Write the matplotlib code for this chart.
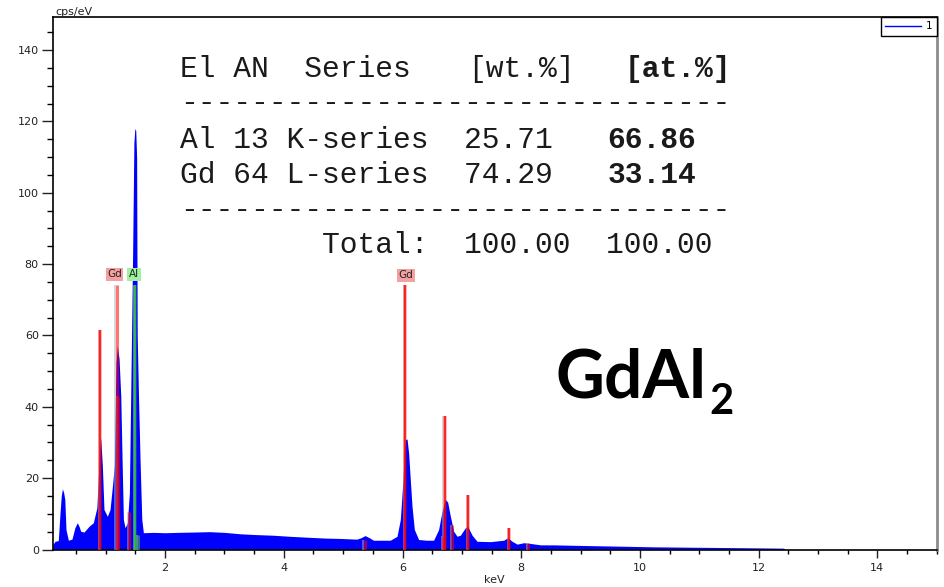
import matplotlib
matplotlib.use("Agg")
import matplotlib.pyplot as plt
from matplotlib.ticker import MultipleLocator
from matplotlib.lines import Line2D

# ---- spectrum data ----
energy_kev = [0.11, 0.145, 0.20, 0.23, 0.25, 0.27, 0.29, 0.31, 0.33, 0.37, 0.43, 0.48, 0.52, 0.55,
              0.578, 0.634, 0.718, 0.79, 0.85, 0.875, 0.90, 0.915, 0.943, 0.97, 1.027, 1.072, 1.118,
              1.145, 1.157, 1.173, 1.195, 1.224, 1.253, 1.275, 1.297, 1.325, 1.364, 1.398, 1.421,
              1.452, 1.474, 1.49, 1.505, 1.52, 1.53, 1.55, 1.578, 1.607, 1.634, 1.8, 2.0, 2.2, 2.5,
              2.75, 3.0, 3.27, 3.5, 3.82, 4.1, 4.39, 4.7, 4.95, 5.23, 5.30, 5.37, 5.44, 5.51, 5.65,
              5.794, 5.907, 5.963, 6.008, 6.030, 6.047, 6.076, 6.103, 6.131, 6.160, 6.199, 6.271, 6.40,
              6.524, 6.608, 6.666, 6.721, 6.760, 6.806, 6.861, 6.919, 6.974, 7.059, 7.098, 7.172,
              7.256, 7.480, 7.705, 7.772, 7.846, 7.931, 8.042, 8.155, 8.324, 8.54, 9.117, 9.67,
              10.23, 10.80, 11.36, 11.92, 12.42, 12.45, 15.0]
counts_cps = [1.4, 2.3, 2.5, 10.3, 15.0, 17.0, 16.0, 14.0, 5.6, 2.6, 2.9, 6.1, 7.5, 6.5,
              5.1, 4.9, 6.5, 7.5, 11.7, 20.5, 28.0, 31.3, 23.3, 11.2, 9.3, 11.2, 18.7,
              23.8, 37.3, 52.3, 57.1, 53.5, 43.0, 25.2, 8.4, 6.1, 7.5, 15.9, 44.0,
              82.0, 114.0, 118.0, 117.5, 110.0, 60.0, 44.0, 25.0, 8.4, 4.7, 4.8, 4.7, 4.8, 4.9,
              5.0, 4.8, 4.4, 4.2, 4.0, 3.7, 3.45, 3.2, 3.1, 2.9, 3.3, 3.9, 3.3, 2.6, 2.6,
              2.6, 3.7, 8.4, 19.6, 27.0, 30.8, 31.0, 27.0, 19.6, 12.1, 5.6, 2.8, 2.6,
              2.6, 5.6, 10.7, 14.0, 13.3, 9.3, 5.1, 3.7, 4.0, 6.1, 6.5, 4.0,
              2.3, 2.2, 2.6, 3.3, 2.3, 1.5, 1.9, 1.7, 1.3, 1.3, 1.1, 0.93,
              0.75, 0.65, 0.56, 0.47, 0.37, 0.0, 0.0]

# ---- element line markers ----
marker_energy = [0.904, 1.182, 1.207, 1.393, 1.493, 1.548, 5.36, 6.048, 6.68, 6.71, 6.83, 7.10, 7.80, 8.11]
marker_height = [61.6, 74.2, 43.0, 10.4, 74.2, 4.2, 2.8, 74.2, 3.7, 37.3, 7.0, 15.4, 6.1, 1.7]
marker_element = ["Gd", "Gd", "Gd", "Gd", "Al", "Al", "Gd", "Gd", "Gd", "Gd", "Gd", "Gd", "Gd", "Gd"]
marker_strong = [True, False, False, False, True, False, False, True, False, True, False, True, True, False]

label_text = ["Gd", "Al", "Gd"]
label_energy = [1.148, 1.477, 6.06]
label_height = [77.2, 77.2, 76.9]

# ---- quantification table ----
table_header = ["El AN  Series", "[wt.%]", "[at.%]"]
table_rows = [["Al 13 K-series  25.71", "66.86"],
              ["Gd 64 L-series  74.29", "33.14"]]
table_total = "        Total:  100.00  100.00"

x_ticks = [2, 4, 6, 8, 10, 12, 14]
y_ticks = [0, 20, 40, 60, 80, 100, 120, 140]

W, H = 945, 587
def fx(x): return x / W
def fy(y): return 1 - y / H

fig = plt.figure(figsize=(9.45, 5.87), dpi=100)
ax = fig.add_axes([fx(52.7), fy(549.5), fx(936.7) - fx(52.7), fy(17.3) - fy(549.5)])

ax.fill_between(energy_kev, counts_cps, 0, color="#0000ff", lw=0, zorder=2)

el_col = {"Gd": "#ff0000", "Al": "#33cc33"}
for e, h, el, strong in zip(marker_energy, marker_height, marker_element, marker_strong):
    c = el_col[el]
    ax.vlines(e - 0.02, 0, h, color="#b0b0b0", lw=1.2, alpha=0.6, zorder=3)
    if strong:
        ax.vlines(e, 0, h, color=c, lw=2.6, alpha=0.35, zorder=3)
        ax.vlines(e, 0, h, color=c, lw=1.1, zorder=4)
    else:
        ax.vlines(e, 0, h, color=c, lw=2.2, alpha=0.55, zorder=4)

box_col = {"Gd": "#f4a0a0", "Al": "#a0f0a0"}
for t, e, h in zip(label_text, label_energy, label_height):
    ax.text(e, h, t, ha="center", va="center", fontsize=7.5, color="#222222",
            bbox=dict(boxstyle="square,pad=0.15", fc=box_col[t], ec="none"), zorder=5)

ax.set_xlim(0.106, 15.0)
ax.set_ylim(0, 149.2)
ax.set_xticks(x_ticks)
ax.set_yticks(y_ticks)
ax.xaxis.set_minor_locator(MultipleLocator(0.5))
ax.yaxis.set_minor_locator(MultipleLocator(5))
ax.tick_params(axis="both", which="major", labelsize=8, colors="#222222", width=1)
ax.tick_params(axis="x", which="major", length=6, pad=4)
ax.tick_params(axis="y", which="major", length=8, pad=2)
ax.tick_params(axis="x", which="minor", length=3, width=1)
ax.tick_params(axis="y", which="minor", length=4.5, width=1)
for s in ["left", "bottom", "top"]:
    ax.spines[s].set_color("#000000")
    ax.spines[s].set_linewidth(1.2)
ax.spines["right"].set_color("#8c8c8c")
ax.spines["right"].set_linewidth(2)

leg = ax.legend(handles=[Line2D([], [], color="#0000ff", lw=1)], labels=["1"],
                loc="upper right", bbox_to_anchor=(1.0, 1.0), borderaxespad=0,
                fontsize=7.5, handlelength=3.4, handletextpad=0.5, borderpad=0.4,
                frameon=True, fancybox=False, edgecolor="#000000", framealpha=1)
leg.get_frame().set_linewidth(1)

fig.text(fx(55), fy(12), "cps/eV", fontsize=8, color="#222222", ha="left", va="center")
fig.text(fx(494), fy(580), "keV", fontsize=8, color="#222222", ha="center", va="center")

# table text (monospace)
mono = "Liberation Mono"
fs = 21.3
cw = 17.8
x0 = 180
tc = "#1a1a1a"
fig.text(fx(x0), fy(77), table_header[0], family=mono, fontsize=fs, color=tc, va="baseline")
fig.text(fx(521), fy(77), table_header[1], family=mono, fontsize=fs, color=tc,
         va="baseline", ha="center")
fig.text(fx(x0 + 25 * cw), fy(77), table_header[2], family=mono, fontsize=fs,
         weight="bold", color=tc, va="baseline")
fig.text(fx(x0), fy(111), "-" * 31, family=mono, fontsize=fs, color=tc, va="baseline")
for (plain, bold), yb in zip(table_rows, [148, 183]):
    fig.text(fx(x0), fy(yb), plain, family=mono, fontsize=fs, color=tc, va="baseline")
    fig.text(fx(x0 + 24 * cw), fy(yb), bold, family=mono, fontsize=fs, weight="bold",
             color=tc, va="baseline")
fig.text(fx(x0), fy(218), "-" * 31, family=mono, fontsize=fs, color=tc, va="baseline")
fig.text(fx(x0), fy(253), table_total, family=mono, fontsize=fs, color=tc, va="baseline")

# compound label
fig.text(fx(555), fy(398), "GdAl", family="Lato", weight="bold", fontsize=48.5,
         color="#000000", va="baseline", ha="left")
fig.text(fx(709), fy(414), "2", family="Lato", weight="bold", fontsize=30,
         color="#000000", va="baseline", ha="left")

fig.savefig("out.png", dpi=100)
